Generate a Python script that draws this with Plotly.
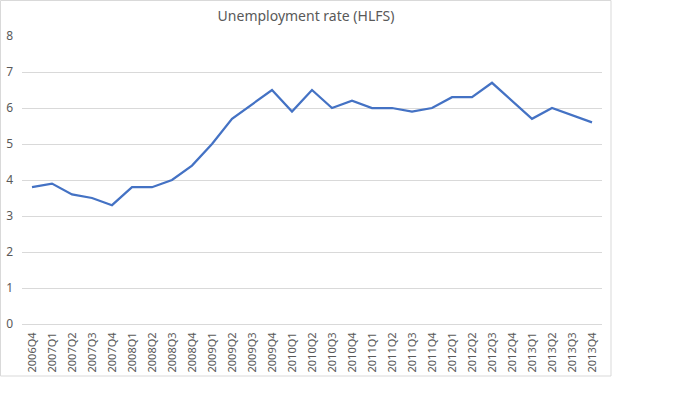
import plotly.graph_objects as go

quarters = ["2006Q4", "2007Q1", "2007Q2", "2007Q3", "2007Q4", "2008Q1", "2008Q2", "2008Q3",
            "2008Q4", "2009Q1", "2009Q2", "2009Q3", "2009Q4", "2010Q1", "2010Q2", "2010Q3",
            "2010Q4", "2011Q1", "2011Q2", "2011Q3", "2011Q4", "2012Q1", "2012Q2", "2012Q3",
            "2012Q4", "2013Q1", "2013Q2", "2013Q3", "2013Q4"]
unemployment = [3.8, 3.9, 3.6, 3.5, 3.3, 3.8, 3.8, 4.0, 4.4, 5.0, 5.7, 6.1, 6.5, 5.9, 6.5,
                6.0, 6.2, 6.0, 6.0, 5.9, 6.0, 6.3, 6.3, 6.7, 6.2, 5.7, 6.0, 5.8, 5.6]
y_ticks = [0, 1, 2, 3, 4, 5, 6, 7, 8]

W, H = 700, 393
L, R, T, B = 22, 602, 36, 324
pw, ph = R - L, B - T

fig = go.Figure()
fig.add_trace(go.Scatter(x=quarters, y=unemployment, mode="lines",
                         line=dict(color="#4472C4", width=2.25), hoverinfo="x+y"))

font_family = "Noto Sans, Open Sans, sans-serif"
fig.update_layout(
    width=W, height=H,
    margin=dict(l=L, r=W - R, t=T, b=H - B, pad=0, autoexpand=False),
    paper_bgcolor="white", plot_bgcolor="white",
    showlegend=False,
    font=dict(family=font_family, color="#595959", size=12),
    title=dict(text="Unemployment rate (HLFS)", x=306 / W, xref="container", xanchor="center",
               y=1 - 16 / H, yref="container", yanchor="middle",
               font=dict(size=14, color="#595959", family=font_family)),
    xaxis=dict(type="category", range=[-0.5, len(quarters) - 0.5], tickangle=-90,
               showgrid=False, ticks="", automargin=False,
               showline=True, linecolor="#d9d9d9", linewidth=1,
               tickfont=dict(size=11, color="#595959"), ticklabelstandoff=3),
    yaxis=dict(range=[0, 8], tickvals=y_ticks, showgrid=True, gridcolor="#d9d9d9", gridwidth=1,
               zeroline=False, showline=False, ticks="", automargin=False,
               tickfont=dict(size=12, color="#595959"), ticklabelstandoff=8),
    shapes=[dict(type="rect", xref="paper", yref="paper",
                 x0=(0.5 - L) / pw, x1=(611 - L) / pw,
                 y0=(B - 376) / ph, y1=(B - 0.5) / ph,
                 line=dict(color="#d9d9d9", width=1), fillcolor="rgba(0,0,0,0)", layer="below")],
)

fig.write_html("out.html", config={"displayModeBar": False},
               post_script="document.body.style.margin='0';")
